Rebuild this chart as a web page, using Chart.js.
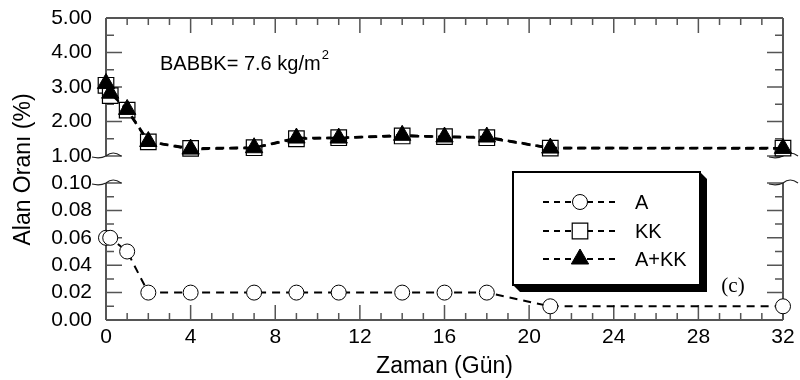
<!DOCTYPE html>
<html>
<head>
<meta charset="utf-8">
<script src="https://cdn.jsdelivr.net/npm/chart.js@4.4.1/dist/chart.umd.min.js"></script>
<style>
    html, body { margin: 0; padding: 0; background: #fff; }
    #wrap { width: 800px; height: 380px; }
</style>
</head>
<body>
<div id="wrap"><canvas id="areaChart" width="800" height="380"></canvas></div>
<script>
// time in days
const days = [0, 0.2, 1, 2, 4, 7, 9, 11, 14, 16, 18, 21, 32];
const seriesA = [0.06, 0.06, 0.05, 0.02, 0.02, 0.02, 0.02, 0.02, 0.02, 0.02, 0.02, 0.01, 0.01];
const seriesKK = [3.05, 2.75, 2.33, 1.41, 1.22, 1.24, 1.5, 1.53, 1.58, 1.56, 1.53, 1.23, 1.23];
const seriesAKK = [3.1, 2.82, 2.35, 1.42, 1.2, 1.24, 1.52, 1.52, 1.6, 1.55, 1.55, 1.23, 1.22];
const legendLabels = ["A", "KK", "A+KK"];
const xTicks = [0, 4, 8, 12, 16, 20, 24, 28, 32];
const topTicks = [1, 2, 3, 4, 5];
const bottomTicks = [0, 0.02, 0.04, 0.06, 0.08, 0.1];

const FONT = "'Liberation Sans', Arial, sans-serif";
Chart.defaults.font.family = FONT;
Chart.defaults.color = "#000";

function toPoints(ys) {
    return days.map((d, i) => ({ x: d, y: ys[i] }));
}

const axisGrey = "#555";

// frame, inward ticks and axis break marks
const framePlugin = {
    id: "frame",
    beforeDatasetsDraw(chart) {
        const { ctx, chartArea: a, scales } = chart;
        const sx = scales.x, st = scales.yTop, sb = scales.yBot;
        ctx.save();
        ctx.strokeStyle = axisGrey;
        ctx.lineWidth = 2;
        ctx.beginPath();
        [a.left, a.right].forEach((x) => {
            ctx.moveTo(x, st.top); ctx.lineTo(x, st.bottom);
            ctx.moveTo(x, sb.top); ctx.lineTo(x, sb.bottom);
        });
        ctx.moveTo(a.left, a.top); ctx.lineTo(a.right, a.top);
        ctx.moveTo(a.left, a.bottom); ctx.lineTo(a.right, a.bottom);
        ctx.stroke();

        ctx.lineWidth = 1.5;
        ctx.beginPath();
        for (let d = 0; d <= 32; d++) {
            const px = sx.getPixelForValue(d);
            const len = d % 4 === 0 ? 15 : 7;
            ctx.moveTo(px, a.bottom); ctx.lineTo(px, a.bottom - len);
            ctx.moveTo(px, a.top); ctx.lineTo(px, a.top + len);
        }
        for (let i = 2; i <= 10; i++) {
            const py = st.getPixelForValue(i / 2);
            const len = i % 2 === 0 ? 16 : 8;
            ctx.moveTo(a.left, py); ctx.lineTo(a.left + len, py);
            ctx.moveTo(a.right, py); ctx.lineTo(a.right - len, py);
        }
        for (let i = 0; i <= 10; i++) {
            const py = sb.getPixelForValue(i / 100);
            const len = i % 2 === 0 ? 16 : 8;
            ctx.moveTo(a.left, py); ctx.lineTo(a.left + len, py);
            ctx.moveTo(a.right, py); ctx.lineTo(a.right - len, py);
        }
        ctx.stroke();

        // break marks
        ctx.strokeStyle = "#222";
        ctx.lineWidth = 1.2;
        ctx.beginPath();
        [a.left, a.right].forEach((x) => {
            [st.bottom, sb.top].forEach((y) => {
                ctx.moveTo(x - 14, y + 1);
                ctx.quadraticCurveTo(x - 6, y + 3, x, y);
                ctx.quadraticCurveTo(x + 7, y - 6, x + 15, y);
            });
        });
        ctx.stroke();
        ctx.restore();
    },
    afterDraw(chart) {
        const { ctx, chartArea: a } = chart;
        ctx.save();

        // note text
        ctx.fillStyle = "#000";
        ctx.font = "20px " + FONT;
        ctx.textBaseline = "alphabetic";
        ctx.textAlign = "left";
        const note = "BABBK= 7.6 kg/m";
        ctx.fillText(note, a.left + 54, 70);
        const w = ctx.measureText(note).width;
        ctx.font = "13px " + FONT;
        ctx.fillText("2", a.left + 54 + w + 1, 59);

        // (c)
        ctx.font = "21px 'Liberation Serif', serif";
        ctx.textAlign = "center";
        ctx.textBaseline = "middle";
        ctx.fillText("(c)", 733, 286);

        // legend box with shadow
        const L = 513, T = 172, R = 700, B = 285, sh = 7;
        ctx.fillStyle = "#000";
        ctx.beginPath();
        ctx.moveTo(R, T); ctx.lineTo(R + sh, T + sh); ctx.lineTo(R + sh, B + sh);
        ctx.lineTo(L + sh, B + sh); ctx.lineTo(L, B); ctx.closePath();
        ctx.fill();
        ctx.fillStyle = "#fff";
        ctx.fillRect(L, T, R - L, B - T);
        ctx.strokeStyle = "#000";
        ctx.lineWidth = 2;
        ctx.strokeRect(L, T, R - L, B - T);

        const rows = [202, 231, 259];
        chart.data.datasets.forEach((ds, i) => {
            const y = rows[i];
            ctx.setLineDash([6, 5]);
            ctx.lineWidth = 1.8;
            ctx.strokeStyle = "#000";
            ctx.beginPath();
            ctx.moveTo(543, y); ctx.lineTo(618, y);
            ctx.stroke();
            ctx.setLineDash([]);
            ctx.fillStyle = ds.pointBackgroundColor;
            ctx.strokeStyle = "#000";
            ctx.lineWidth = ds.pointBorderWidth;
            Chart.helpers.drawPoint(ctx, {
                pointStyle: ds.pointStyle,
                radius: ds.pointRadius,
                borderWidth: ds.pointBorderWidth,
                rotation: 0,
            }, 580, y);
            ctx.fillStyle = "#000";
            ctx.font = "20px " + FONT;
            ctx.textAlign = "left";
            ctx.textBaseline = "middle";
            ctx.fillText(legendLabels[i], 635, y + 1);
        });
        ctx.restore();
    },
};

const tickFont = { size: 21 };
const fixWidth = (s) => { s.width = 106; };
const setTicks = (vals) => (s) => { s.ticks = vals.map((v) => ({ value: v })); };
// label offset comes from tickLength so that tick padding does not grow the top margin
const yGrid = { display: false, drawTicks: true, tickLength: 14 };

new Chart(document.getElementById("areaChart"), {
    type: "line",
    data: {
        datasets: [
            {
                label: legendLabels[0],
                data: toPoints(seriesA),
                yAxisID: "yBot",
                order: 2,
                borderColor: "#000",
                borderWidth: 2,
                borderDash: [8, 6],
                pointStyle: "circle",
                pointRadius: 7.5,
                pointBorderWidth: 1,
                pointBackgroundColor: "#fff",
                pointBorderColor: "#000",
                clip: false,
            },
            {
                label: legendLabels[1],
                data: toPoints(seriesKK),
                yAxisID: "yTop",
                order: 1,
                borderColor: "#000",
                borderWidth: 2.6,
                borderDash: [8, 6],
                pointStyle: "rect",
                pointRadius: 11,
                pointBorderWidth: 1.2,
                pointBackgroundColor: "#fff",
                pointBorderColor: "#000",
                clip: false,
            },
            {
                label: legendLabels[2],
                data: toPoints(seriesAKK),
                yAxisID: "yTop",
                order: 0,
                borderColor: "#000",
                borderWidth: 2.6,
                borderDash: [8, 6],
                pointStyle: "triangle",
                pointRadius: 10,
                pointBorderWidth: 1,
                pointBackgroundColor: "#000",
                pointBorderColor: "#000",
                clip: false,
            },
        ],
    },
    options: {
        responsive: false,
        animation: false,
        events: [],
        layout: { padding: { top: 18, right: 17, left: 0, bottom: 0 } },
        plugins: { legend: { display: false }, tooltip: { enabled: false } },
        scales: {
            x: {
                type: "linear",
                min: 0,
                max: 32,
                afterBuildTicks: setTicks(xTicks),
                ticks: { autoSkip: false, font: tickFont, padding: 5, maxRotation: 0, color: "#000" },
                grid: { display: false, drawTicks: false },
                border: { display: false },
                title: { display: true, text: "Zaman (Gün)", font: { size: 23 }, color: "#000", padding: 0 },
                afterFit: (s) => { s.height = 60; },
            },
            yBot: {
                type: "linear",
                position: "left",
                stack: "y",
                stackWeight: 137,
                min: 0,
                max: 0.1,
                afterBuildTicks: setTicks(bottomTicks),
                ticks: { autoSkip: false, font: tickFont, padding: 0, color: "#000", callback: (v) => v.toFixed(2) },
                grid: yGrid,
                border: { display: false },
                afterFit: fixWidth,
            },
            yGap: {
                type: "linear",
                position: "left",
                stack: "y",
                stackWeight: 27,
                min: 0,
                max: 1,
                ticks: { display: false, padding: 0 },
                grid: { display: false, drawTicks: false },
                border: { display: false },
                title: { display: true, text: "Alan Oranı (%)", font: { size: 23 }, color: "#000", padding: { top: 10, bottom: 0 } },
                afterFit: fixWidth,
            },
            yTop: {
                type: "linear",
                position: "left",
                stack: "y",
                stackWeight: 138,
                min: 1,
                max: 5,
                afterBuildTicks: setTicks(topTicks),
                ticks: { autoSkip: false, font: tickFont, padding: 0, color: "#000", callback: (v) => v.toFixed(2) },
                grid: yGrid,
                border: { display: false },
                afterFit: fixWidth,
            },
        },
    },
    plugins: [framePlugin],
});
</script>
</body>
</html>
